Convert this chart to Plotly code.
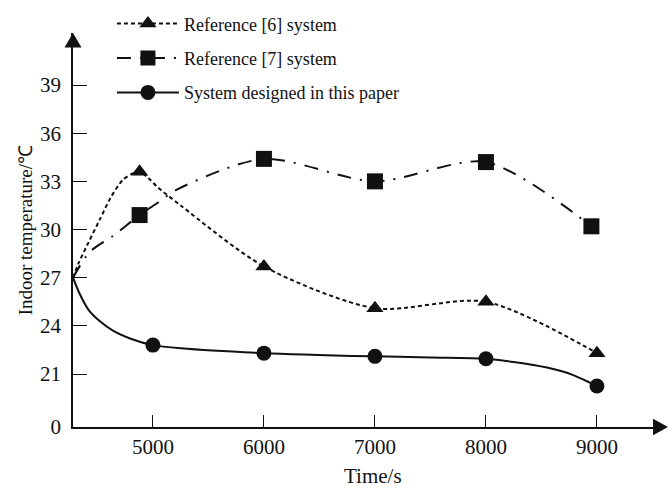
import plotly.graph_objects as go

# ---- data ----
t_start = 4280
y_start = 27.0

ref6_t = [4880, 6000, 7000, 8000, 9000]
ref6_v = [33.6, 27.7, 25.1, 25.5, 22.3]
# extra points along the drawn curve of ref [6]
ref6_curve_t = [4330, 4420, 4520, 4620, 4730, 4820, 4960, 5040, 5250]
ref6_curve_v = [27.9, 29.2, 30.6, 32.0, 33.1, 33.5, 33.2, 32.65, 31.5]

ref7_t = [4880, 6000, 7000, 8000, 8950]
ref7_v = [30.9, 34.4, 33.0, 34.2, 30.2]
ref7_curve_t = [4430, 4640, 5050, 5220]
ref7_curve_v = [28.6, 29.6, 31.7, 32.5]

ours_t = [5000, 6000, 7000, 8000, 9000]
ours_v = [22.8, 22.3, 22.1, 21.95, 20.25]
# intermediate points along the smooth curve of our system
ours_curve_t = [4340, 4420, 4520, 4640, 4800, 5250, 7500, 8250, 8550, 8780, 8940]
ours_curve_v = [26.0, 25.0, 24.3, 23.7, 23.2, 22.6, 22.03, 21.75, 21.4, 20.95, 20.45]

y_ticks = [21, 24, 27, 30, 33, 36, 39]
y_zero_pos = 17.7
x_ticks = [5000, 6000, 7000, 8000, 9000]

names = ["Reference [6] system", "Reference [7] system", "System designed in this paper"]
symbols = ["triangle-up", "square", "circle"]
dashes = ["4px,3px", "14px,9px,2px,9px", "solid"]

X_RANGE = [4280, 9595]
Y_RANGE = [17.7, 42.24]

INK = "#111111"
FONT = "Liberation Serif"


def merged(tm, vm, tc, vc):
    pts = sorted(zip([t_start] + tm + tc, [y_start] + vm + vc))
    return [p[0] for p in pts], [p[1] for p in pts]


lines = [
    merged(ref6_t, ref6_v, ref6_curve_t, ref6_curve_v),
    merged(ref7_t, ref7_v, ref7_curve_t, ref7_curve_v),
    merged(ours_t, ours_v, ours_curve_t, ours_curve_v),
]
mk_t = [ref6_t, ref7_t, ours_t]
mk_v = [ref6_v, ref7_v, ours_v]
msizes = [15, 16, 15]

fig = go.Figure()
for i in range(3):
    fig.add_trace(go.Scatter(
        x=lines[i][0], y=lines[i][1], mode="lines",
        line=dict(color=INK, width=2, dash=dashes[i], shape="spline", smoothing=0.8),
        showlegend=False, hoverinfo="skip", cliponaxis=False,
    ))
    fig.add_trace(go.Scatter(
        x=mk_t[i], y=mk_v[i], mode="markers",
        marker=dict(symbol=symbols[i], size=msizes[i], color=INK),
        showlegend=False, cliponaxis=False,
    ))
    # legend entry
    fig.add_trace(go.Scatter(
        x=[None], y=[None], mode="lines+markers", name=names[i],
        line=dict(color=INK, width=2, dash=dashes[i]),
        marker=dict(symbol=symbols[i], size=15, color=INK),
        legendgroup=str(i),
    ))

fig.update_layout(
    width=668, height=489,
    margin=dict(l=73, r=5, t=18, b=62),
    paper_bgcolor="white", plot_bgcolor="white",
    font=dict(family=FONT, color=INK, size=18),
    showlegend=True,
    legend=dict(
        x=0.066, y=1.07, xanchor="left", yanchor="top",
        bgcolor="rgba(0,0,0,0)", font=dict(size=18, family=FONT, color=INK),
        tracegroupgap=8, itemwidth=62,
    ),
    xaxis=dict(
        range=X_RANGE, showgrid=False, zeroline=False, automargin=False,
        showline=True, linecolor=INK, linewidth=1.5,
        tickvals=x_ticks, ticktext=[str(v) for v in x_ticks],
        ticks="inside", ticklen=12, tickwidth=1, tickcolor=INK,
        tickfont=dict(size=21, family=FONT, color=INK),
    ),
    yaxis=dict(
        range=Y_RANGE, showgrid=False, zeroline=False, automargin=False,
        showline=True, linecolor=INK, linewidth=1.5,
        tickvals=[y_zero_pos] + y_ticks, ticktext=["0"] + [str(v) for v in y_ticks],
        ticks="inside", ticklen=14, tickwidth=1, tickcolor=INK,
        tickfont=dict(size=21, family=FONT, color=INK),
        ticklabelstandoff=6,
    ),
)

# axis titles
fig.add_annotation(text="Time/s", xref="paper", yref="paper", x=0.508, y=-0.1247,
                   xanchor="center", yanchor="middle", showarrow=False,
                   font=dict(size=21, family=FONT, color=INK))
fig.add_annotation(text="Indoor temperature/℃", xref="paper", yref="paper", x=-0.0814, y=0.499,
                   xanchor="center", yanchor="middle", showarrow=False, textangle=-90,
                   font=dict(size=19, family=FONT, color=INK))

# axis arrow heads (paper coords)
pw, ph = 668 - 73 - 5, 489 - 18 - 62
aw, ah = 17, 15
fig.add_shape(type="path", xref="paper", yref="paper",
              path=f"M {-aw/2/pw} {1-ah/ph} L {aw/2/pw} {1-ah/ph} L 0 1 Z",
              fillcolor=INK, line=dict(width=0), layer="above")
fig.add_shape(type="path", xref="paper", yref="paper",
              path=f"M {1-10/pw} {aw/2/ph} L {1-10/pw} {-aw/2/ph} L {1+5/pw} 0 Z",
              fillcolor=INK, line=dict(width=0), layer="above")

fig.write_html("out.html", config={"displayModeBar": False},
               post_script="document.body.style.margin='0';")
